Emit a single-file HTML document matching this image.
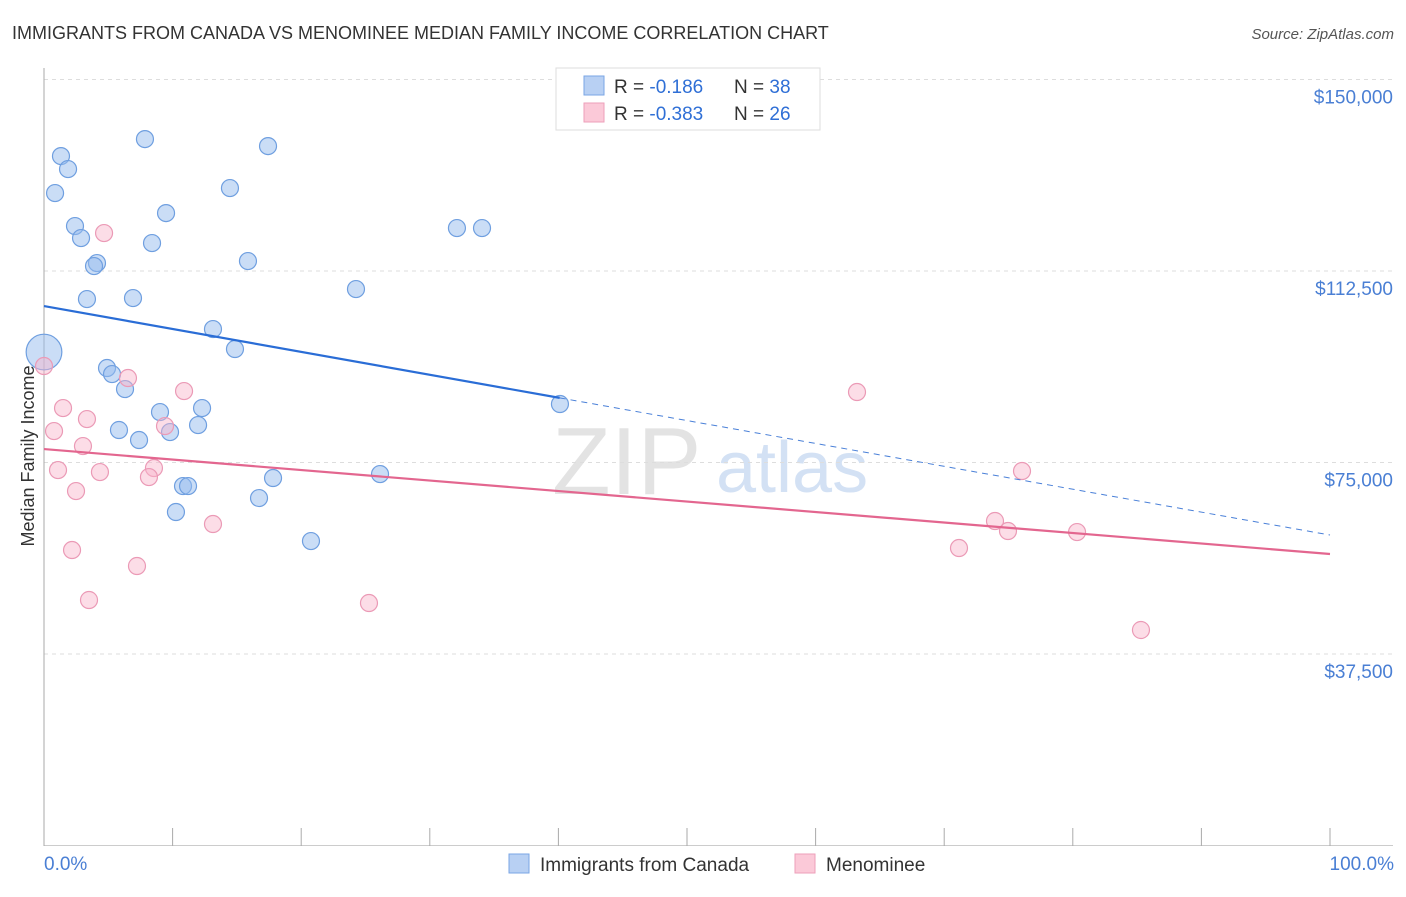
<!DOCTYPE html>
<html><head><meta charset="utf-8"><style>
body{margin:0;background:#fff;font-family:"Liberation Sans",sans-serif}
svg text{font-family:"Liberation Sans",sans-serif}
</style></head><body>
<svg id="chart" width="1406" height="892" viewBox="0 0 1406 892">
<text x="12" y="39" font-size="18" fill="#333">IMMIGRANTS FROM CANADA VS MENOMINEE MEDIAN FAMILY INCOME CORRELATION CHART</text>
<text x="1394" y="39" font-size="15" fill="#555" font-style="italic" text-anchor="end">Source: ZipAtlas.com</text>
<g>
<text x="552" y="494" font-size="96" fill="#ddd" font-family="Liberation Serif,serif" opacity="0.8">ZIP</text>
<text x="716" y="492" font-size="72" fill="#c9daf2" opacity="0.8">atlas</text>
</g>
<g id="grid"></g>
<g id="axes"></g>
<g id="marks"></g>
<text transform="translate(34,456) rotate(-90)" font-size="18" fill="#333" text-anchor="middle">Median Family Income</text>
<g>
<rect x="556" y="68" width="264" height="62" fill="#fff" stroke="#ddd"/>
<rect x="584" y="76" width="20" height="19" fill="#b8d0f3" stroke="#7aa6e4"/>
<rect x="584" y="103" width="20" height="19" fill="#fbc9d8" stroke="#ee9fba"/>
<text x="614" y="93" font-size="19" fill="#333">R = <tspan fill="#2f6fd6">-0.186</tspan><tspan x="734">N = </tspan><tspan fill="#2f6fd6">38</tspan></text>
<text x="614" y="120" font-size="19" fill="#333">R = <tspan fill="#2f6fd6">-0.383</tspan><tspan x="734">N = </tspan><tspan fill="#2f6fd6">26</tspan></text>
</g>
<g>
<rect x="509" y="854" width="20" height="19" fill="#b8d0f3" stroke="#7aa6e4"/>
<text x="540" y="871" font-size="19" fill="#333">Immigrants from Canada</text>
<rect x="795" y="854" width="20" height="19" fill="#fbc9d8" stroke="#ee9fba"/>
<text x="826" y="871" font-size="19" fill="#333">Menominee</text>
</g>
<text x="44" y="870" font-size="19" fill="#4a7fd4">0.0%</text>
<text x="1394" y="870" font-size="19" fill="#4a7fd4" text-anchor="end">100.0%</text>
</svg>
<script>
const yTicks=[150000,112500,75000,37500];
const yTickLabels=["$150,000","$112,500","$75,000","$37,500"];
const xTicks=[0,10,20,30,40,50,60,70,80,90,100];
const canadaX=[1.32,1.87,0.86,7.85,17.42,14.46,9.49,2.41,2.88,8.40,4.12,3.89,15.86,32.11,34.06,24.26,3.34,6.92,13.14,14.85,0,4.90,5.29,6.30,9.02,12.29,5.83,7.39,9.80,11.98,26.13,17.81,10.81,11.20,16.72,10.26,20.76,40.12];
const canadaY=[135000,132460,127760,138330,136960,128740,123840,121300,118950,117970,114050,113470,114450,120910,120910,108960,107000,107200,101130,97220,96630,93500,92320,89380,84880,85660,81360,79400,80960,82330,72740,71960,70390,70390,68040,65300,59620,86450];
const canadaSize=[1,1,1,1,1,1,1,1,1,1,1,1,1,1,1,1,1,1,1,1,2.1,1,1,1,1,1,1,1,1,1,1,1,1,1,1,1,1,1];
const menX=[0,4.67,6.53,10.89,1.48,3.34,0.78,9.41,3.03,1.09,4.35,8.55,8.16,2.49,13.14,2.18,7.23,3.50,25.27,63.22,76.05,73.95,74.96,80.33,71.15,85.30];
const menY=[93890,119930,91540,88990,85660,83510,81160,82140,78220,73520,73130,73920,72150,69410,62950,57860,54730,48070,47480,88800,73330,63540,61580,61380,58250,42200];
const canadaTrend=[105630,60800];
const canadaSolidEnd=40.1;
const menTrend=[77630,57080];
const NS="http://www.w3.org/2000/svg";
const X0=44,X1=1330,Y0=845.5,PXPER=191.5/37500;
function sx(v){return X0+(v/100)*(X1-X0);}
function sy(v){return Y0-v*PXPER;}
function mk(tag,attrs,parent){const e=document.createElementNS(NS,tag);for(const k in attrs)e.setAttribute(k,attrs[k]);parent.appendChild(e);return e;}
const grid=document.getElementById('grid'),axes=document.getElementById('axes'),marks=document.getElementById('marks');
yTicks.forEach((t,i)=>{
 const l=mk('line',{x1:44,x2:1393,y1:sy(t),y2:sy(t),stroke:'#ddd','stroke-dasharray':'4,4'},grid);
 
 
 const tx=mk('text',{x:1393,y:sy(t)+24,'font-size':19,fill:'#4a7fd4','text-anchor':'end'},grid);
 tx.textContent=yTickLabels[i];
 
 
});
const ya=mk('line',{x1:44,x2:44,y1:68,y2:846,stroke:'#aaa'},axes);


const xa=mk('line',{x1:44,x2:1393,y1:845.5,y2:845.5,stroke:'#ccc'},axes);


xTicks.forEach(t=>{
 const l=mk('line',{x1:sx(t),x2:sx(t),y1:828,y2:846,stroke:'#aaa'},axes);
 
 
});
canadaX.forEach((x,i)=>{
 const c=mk('circle',{cx:sx(x),cy:sy(canadaY[i]),r:8.5*canadaSize[i],fill:'rgba(150,188,238,0.5)',stroke:'#6f9fe0','stroke-width':1.2},marks);
 
 
});
menX.forEach((x,i)=>{
 const c=mk('circle',{cx:sx(x),cy:sy(menY[i]),r:8.5,fill:'rgba(248,180,202,0.45)',stroke:'#eb9ab6','stroke-width':1.2},marks);
 
 
});
function trendAt(tr,x){return tr[0]+(tr[1]-tr[0])*x/100;}
const tb=mk('line',{x1:sx(0),y1:sy(canadaTrend[0]),x2:sx(canadaSolidEnd),y2:sy(trendAt(canadaTrend,canadaSolidEnd)),stroke:'#2a6dd6','stroke-width':2.2},marks);


const td=mk('line',{x1:sx(canadaSolidEnd),y1:sy(trendAt(canadaTrend,canadaSolidEnd)),x2:sx(100),y2:sy(canadaTrend[1]),stroke:'#4a80d8','stroke-width':1,'stroke-dasharray':'6,5'},marks);


const tp=mk('line',{x1:sx(0),y1:sy(menTrend[0]),x2:sx(100),y2:sy(menTrend[1]),stroke:'#e3668f','stroke-width':2.2},marks);


</script>
</body></html>
